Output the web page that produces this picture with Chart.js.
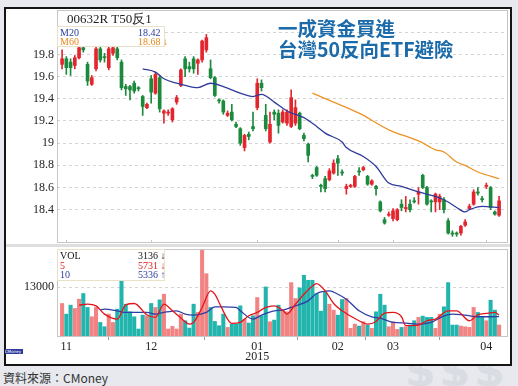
<!DOCTYPE html>
<html>
<head>
<meta charset="utf-8">
<script src="https://cdn.jsdelivr.net/npm/chart.js@4.4.1/dist/chart.umd.min.js"></script>
<style>
  body { margin:0; width:518px; height:386px; background:#e7e9ee; position:relative; overflow:hidden; font-family:'Liberation Serif', serif; }
  .abs { position:absolute; white-space:nowrap; }
  #frame { left:4px; top:7px; width:504px; height:355px; border:2px solid #151515; background:#fff; }
  #band { left:6px; top:244px; width:504px; height:3px; background:#dedede; }
  canvas { position:absolute; }
  #cPrice { left:6px; top:9px; }
  #cVol { left:6px; top:246px; }
  .lg { background:rgba(255,255,255,0.92); border:1px solid #e9e1c8; font-size:10px; line-height:9.5px; }
  .lg span { position:absolute; }
</style>
</head>
<body>
<div class="abs" style="left:405px;top:345px;font:bold 44px 'DejaVu Sans';color:#d9dce2;letter-spacing:4px;">$$$</div>
<div id="frame" class="abs"></div>
<div id="band" class="abs"></div>
<canvas id="cPrice" width="504" height="236"></canvas>
<canvas id="cVol" width="504" height="118"></canvas>

<div class="abs" style="left:67px;top:10px;font-size:13px;color:#222;">00632R T50反1</div>
<div class="abs lg" style="left:57px;top:26px;width:106px;height:19px;">
  <span style="left:2px;top:1px;color:#2a3d9c;">M20</span>
  <span style="left:80px;top:1px;color:#2a3d9c;">18.42</span>
  <span style="left:2px;top:10px;color:#e8891a;">M60</span>
  <span style="left:80px;top:10px;color:#e8891a;">18.68 ↓</span>
</div>
<div class="abs lg" style="left:57px;top:249px;width:106px;height:30px;">
  <span style="left:2px;top:1px;color:#111;">VOL</span>
  <span style="left:80px;top:1px;color:#111;">3136 ↓</span>
  <span style="left:2px;top:10.5px;color:#e0161c;">5</span>
  <span style="left:80px;top:10.5px;color:#e0161c;">5731 ↓</span>
  <span style="left:2px;top:20px;color:#2a3d9c;">10</span>
  <span style="left:80px;top:20px;color:#2a3d9c;">5336 ↑</span>
</div>
<div class="abs" style="left:278px;top:17px;font:bold 19.5px 'Noto Sans CJK TC';line-height:21px;color:#1b6aa9;">一成資金買進<br>台灣50反向ETF避險</div>
<div class="abs" style="left:5px;top:349px;width:18px;height:5px;background:#2b3a9c;color:#fff;font:4px 'DejaVu Sans';line-height:5px;">CMoney</div>
<div class="abs" style="left:3px;top:369px;font:12px 'Noto Sans CJK TC';color:#333;">資料來源：CMoney</div>

<script>
// 日K (00632R)
const open  = [19.71,19.76,19.73,19.70,19.77,19.86,19.71,19.53,19.67,19.85,19.78,19.68,19.81,19.85,19.73,19.51,19.51,19.54,19.50,19.42,
               19.32,19.58,19.45,19.59,19.27,19.27,19.21,19.37,19.52,19.76,19.69,19.76,19.72,19.75,19.84,19.67,19.59,19.39,19.38,19.25,
               19.28,19.17,19.13,18.96,19.08,19.15,19.32,19.54,19.25,19.01,19.28,19.27,19.19,19.18,19.15,19.18,19.27,19.07,18.99,18.70,
               18.78,18.62,18.68,18.67,18.73,18.86,18.74,18.59,18.61,18.61,18.75,18.76,18.70,18.63,18.61,18.47,18.31,18.35,18.32,18.31,
               18.45,18.41,18.45,18.48,18.54,18.71,18.60,18.48,18.47,18.47,18.49,18.30,18.19,18.19,18.19,18.26,18.41,18.45,18.56,18.50,
               18.61,18.60,18.38,18.35];
const high  = [19.84,19.78,19.76,19.79,19.88,19.87,19.73,19.61,19.87,19.88,19.81,19.87,19.88,19.87,19.75,19.53,19.52,19.56,19.51,19.43,
               19.36,19.61,19.64,19.61,19.30,19.30,19.32,19.43,19.67,19.78,19.73,19.78,19.76,19.93,19.98,19.75,19.60,19.40,19.39,19.29,
               19.35,19.19,19.14,19.08,19.10,19.28,19.58,19.57,19.35,19.28,19.30,19.30,19.30,19.30,19.48,19.39,19.28,19.09,19.00,18.72,
               18.79,18.63,18.70,18.77,18.85,18.89,18.76,18.63,18.63,18.71,18.78,18.79,18.71,18.67,18.62,18.48,18.33,18.38,18.41,18.41,
               18.49,18.52,18.49,18.51,18.60,18.72,18.61,18.49,18.55,18.54,18.51,18.32,18.21,18.20,18.26,18.31,18.45,18.58,18.60,18.52,
               18.64,18.61,18.39,18.52];
const low   = [19.67,19.62,19.61,19.67,19.76,19.82,19.52,19.52,19.65,19.73,19.73,19.66,19.79,19.75,19.48,19.43,19.39,19.45,19.47,19.25,
               19.31,19.36,19.44,19.28,19.18,19.25,19.19,19.35,19.51,19.60,19.64,19.63,19.62,19.73,19.82,19.58,19.42,19.36,19.26,19.24,
               19.20,19.14,18.98,18.93,19.03,19.11,19.30,19.47,19.11,19.00,19.21,19.09,19.18,19.16,19.14,19.16,19.12,19.02,18.83,18.68,
               18.70,18.56,18.56,18.66,18.72,18.71,18.71,18.54,18.60,18.60,18.71,18.75,18.62,18.62,18.53,18.38,18.27,18.34,18.30,18.30,
               18.39,18.38,18.38,18.46,18.45,18.59,18.44,18.38,18.38,18.40,18.37,18.18,18.16,18.16,18.17,18.25,18.40,18.44,18.53,18.47,
               18.59,18.40,18.35,18.34];
const close = [19.76,19.68,19.68,19.77,19.86,19.84,19.56,19.59,19.85,19.75,19.77,19.85,19.86,19.77,19.50,19.49,19.48,19.47,19.49,19.33,
               19.35,19.46,19.62,19.31,19.29,19.28,19.31,19.41,19.66,19.67,19.67,19.67,19.75,19.92,19.95,19.59,19.43,19.38,19.28,19.27,
               19.21,19.15,19.00,19.07,19.06,19.13,19.54,19.50,19.13,19.17,19.26,19.16,19.28,19.28,19.41,19.32,19.13,19.04,18.89,18.70,
               18.71,18.61,18.59,18.75,18.82,18.82,18.73,18.61,18.62,18.70,18.74,18.78,18.63,18.66,18.59,18.39,18.28,18.36,18.39,18.40,
               18.42,18.42,18.40,18.47,18.56,18.60,18.45,18.47,18.54,18.52,18.40,18.19,18.18,18.18,18.25,18.29,18.43,18.56,18.55,18.49,
               18.62,18.42,18.36,18.48];
const volume = [8760,5980,8320,7460,9880,11360,7720,5290,7720,3810,2690,5980,3810,7280,14830,8580,6590,5290,2080,5720,
                5550,8760,7720,9710,11180,2080,2770,2080,5980,4250,2340,8580,6420,22890,16560,7720,4070,2950,5980,2510,
                3380,3380,8150,4680,3640,5550,10320,5550,13090,3990,4420,8320,7020,6590,14220,10060,12830,16130,14830,14830,
                11360,6760,11790,8580,7020,5720,9800,10060,2250,3380,2860,3990,3120,2250,6590,11180,8320,2690,3990,1990,
                2510,2690,3120,4250,5120,5460,5120,5120,2250,5980,7890,14220,3120,3120,2860,2690,2510,7720,6420,5120,
                4250,9620,7020,3136];

// 均線：[K棒序號, 數值]
const ma20 = [[19,19.67],[22,19.64],[24,19.58],[27,19.54],[29,19.52],[32,19.50],[35,19.54],[38,19.51],[42,19.45],[45,19.42],
              [47,19.44],[50,19.37],[53,19.29],[57,19.23],[60,19.15],[62,19.09],[66,19.01],[67,18.96],[71,18.88],[74,18.79],
              [77,18.64],[80,18.61],[84,18.56],[88,18.52],[91,18.47],[93,18.42],[95,18.38],[96,18.40],[99,18.43],[103,18.42]];
const ma60 = [[59,19.45],[64,19.37],[70,19.27],[77,19.12],[84,19.02],[88,18.94],[90,18.92],[93,18.83],[95,18.80],[98,18.74],[103,18.68]];
const vma5 = [[4,8320],[6,8580],[8,8150],[10,5980],[13,4680],[15,8410],[17,8760],[20,5810],[22,5120],[24,8580],[26,6850],[28,4940],
              [30,3380],[31,3810],[33,7720],[35,12050],[36,11180],[37,9020],[39,4680],[40,3550],[42,3810],[44,5550],[46,6420],[48,7720],
              [50,8150],[52,7000],[53,5980],[55,8580],[57,11180],[59,13350],[60,13960],[62,12050],[64,8760],[66,6850],[70,4250],[72,3380],
              [74,4070],[76,6240],[78,6420],[80,5290],[81,2950],[84,3120],[86,4250],[88,4680],[91,6850],[93,6850],[96,4250],[98,5810],
              [100,6160],[102,6420],[103,5731]];
const vma10 = [[9,7100],[10,7280],[13,6850],[15,6420],[17,6420],[20,6420],[22,5980],[24,6420],[27,6850],[29,5980],[31,5720],[34,6420],
               [36,7890],[38,7890],[41,7720],[42,6850],[45,4680],[47,5720],[50,6850],[52,7020],[55,8150],[58,9450],[60,11360],[63,12050],
               [65,11180],[67,9880],[70,6850],[73,5290],[75,4940],[78,3810],[81,3640],[84,3380],[87,3810],[90,5550],[92,5980],[95,5720],
               [98,5290],[101,5290],[103,5336]];

const priceTicks = [18.4, 18.6, 18.8, 19, 19.2, 19.4, 19.6, 19.8, 20];
const volTicks = [13000, 23000];
const monthIdx = [1, 21, 46, 65, 78, 100];
const monthLbl = ['11', '12', ['01', '2015'], '02', '03', '04'];

const RED = '#e3262e', GREEN = '#1b8a3d', PINK = '#f28383', TEAL = '#22b5ad';
const idx = open.map((_, i) => i);
const up = idx.map(i => close[i] > open[i]);
const pts = arr => arr.map(([x, y]) => ({ x, y }));
const serif = { family: 'Liberation Serif', size: 12 };

// 外框與月份刻度
const framePlugin = {
  id: 'frame',
  afterDraw(chart, args, opts) {
    const { ctx, chartArea: a } = chart;
    ctx.save();
    ctx.strokeStyle = '#c6c6c6';
    ctx.lineWidth = 1;
    ctx.strokeRect(a.left + 0.5, a.top + 0.5, a.right - a.left - 1, a.bottom - a.top - 1);
    if (opts.marks) {
      const xs = chart.scales.x;
      monthIdx.forEach(i => {
        const px = Math.round(xs.getPixelForValue(i)) + 0.5;
        ctx.beginPath();
        ctx.moveTo(px, a.bottom);
        ctx.lineTo(px, a.bottom - 3);
        ctx.stroke();
      });
    }
    ctx.restore();
  }
};

// 不要讓刻度字把圖區往內推
const noPad = s => { s.paddingTop = 0; s.paddingBottom = 0; s.paddingLeft = 0; s.paddingRight = 0; };
const xBase = { type: 'linear', min: -1.2, max: 105.1, offset: false };

new Chart(document.getElementById('cPrice'), {
  type: 'bar',
  data: {
    datasets: [
      { type: 'line', data: pts(ma20), borderColor: '#2f3c9c', borderWidth: 1.3, pointRadius: 0, cubicInterpolationMode: 'monotone', order: 0 },
      { type: 'line', data: pts(ma60), borderColor: '#ee9224', borderWidth: 1.3, pointRadius: 0, cubicInterpolationMode: 'monotone', order: 0 },
      { data: idx.map(i => ({ x: i, y: [open[i], close[i]] })), backgroundColor: up.map(u => u ? RED : GREEN),
        barThickness: 3, grouped: false, minBarLength: 1, order: 1 },
      { data: idx.map(i => ({ x: i, y: [low[i], high[i]] })), backgroundColor: up.map(u => u ? RED : GREEN),
        barThickness: 1, grouped: false, order: 2 }
    ]
  },
  options: {
    animation: false, responsive: false,
    layout: { padding: { top: 1, right: 2, bottom: 2, left: 0 } },
    plugins: { legend: { display: false }, tooltip: { enabled: false }, frame: { marks: true } },
    scales: {
      x: { ...xBase, display: false },
      y: {
        min: 18.1, max: 20.2,
        afterBuildTicks: s => { s.ticks = priceTicks.map(v => ({ value: v })); },
        afterFit: s => { s.width = 51; noPad(s); },
        ticks: { font: serif, color: '#222', padding: 3,
                 callback: v => v >= 20 ? '' : String(Math.round(v * 10) / 10) },
        grid: { color: '#d4d4d4', drawTicks: false },
        border: { display: false, dash: [3, 3] }
      }
    }
  },
  plugins: [framePlugin]
});

new Chart(document.getElementById('cVol'), {
  type: 'bar',
  data: {
    datasets: [
      { type: 'line', data: pts(vma5), borderColor: '#e4161c', borderWidth: 1.3, pointRadius: 0, cubicInterpolationMode: 'monotone', order: 0 },
      { type: 'line', data: pts(vma10), borderColor: '#2f3fa6', borderWidth: 1.3, pointRadius: 0, cubicInterpolationMode: 'monotone', order: 0 },
      { data: idx.map(i => ({ x: i, y: volume[i] })), backgroundColor: up.map(u => u ? PINK : TEAL),
        barThickness: 3.4, grouped: false, order: 1 }
    ]
  },
  options: {
    animation: false, responsive: false,
    layout: { padding: { top: 3, right: 2, bottom: 0, left: 0 } },
    plugins: { legend: { display: false }, tooltip: { enabled: false }, frame: { marks: false } },
    scales: {
      x: {
        ...xBase,
        afterBuildTicks: s => { s.ticks = monthIdx.map(v => ({ value: v })); },
        afterFit: s => { s.height = 27; noPad(s); },
        ticks: { font: { ...serif, lineHeight: 0.85 }, color: '#222', padding: 2, autoSkip: false, maxRotation: 0,
                 callback: (v, i) => monthLbl[i] },
        grid: { drawOnChartArea: false, drawTicks: true, tickLength: 3, color: '#999' },
        border: { display: false }
      },
      y: {
        min: 0, max: 23000,
        afterBuildTicks: s => { s.ticks = volTicks.map(v => ({ value: v })); },
        afterFit: s => { s.width = 51; noPad(s); },
        ticks: { font: serif, color: '#222', padding: 3, callback: v => v === 13000 ? '13000' : '' },
        grid: { color: '#d4d4d4', drawTicks: false },
        border: { display: false, dash: [3, 3] }
      }
    }
  },
  plugins: [framePlugin]
});
</script>
</body>
</html>
